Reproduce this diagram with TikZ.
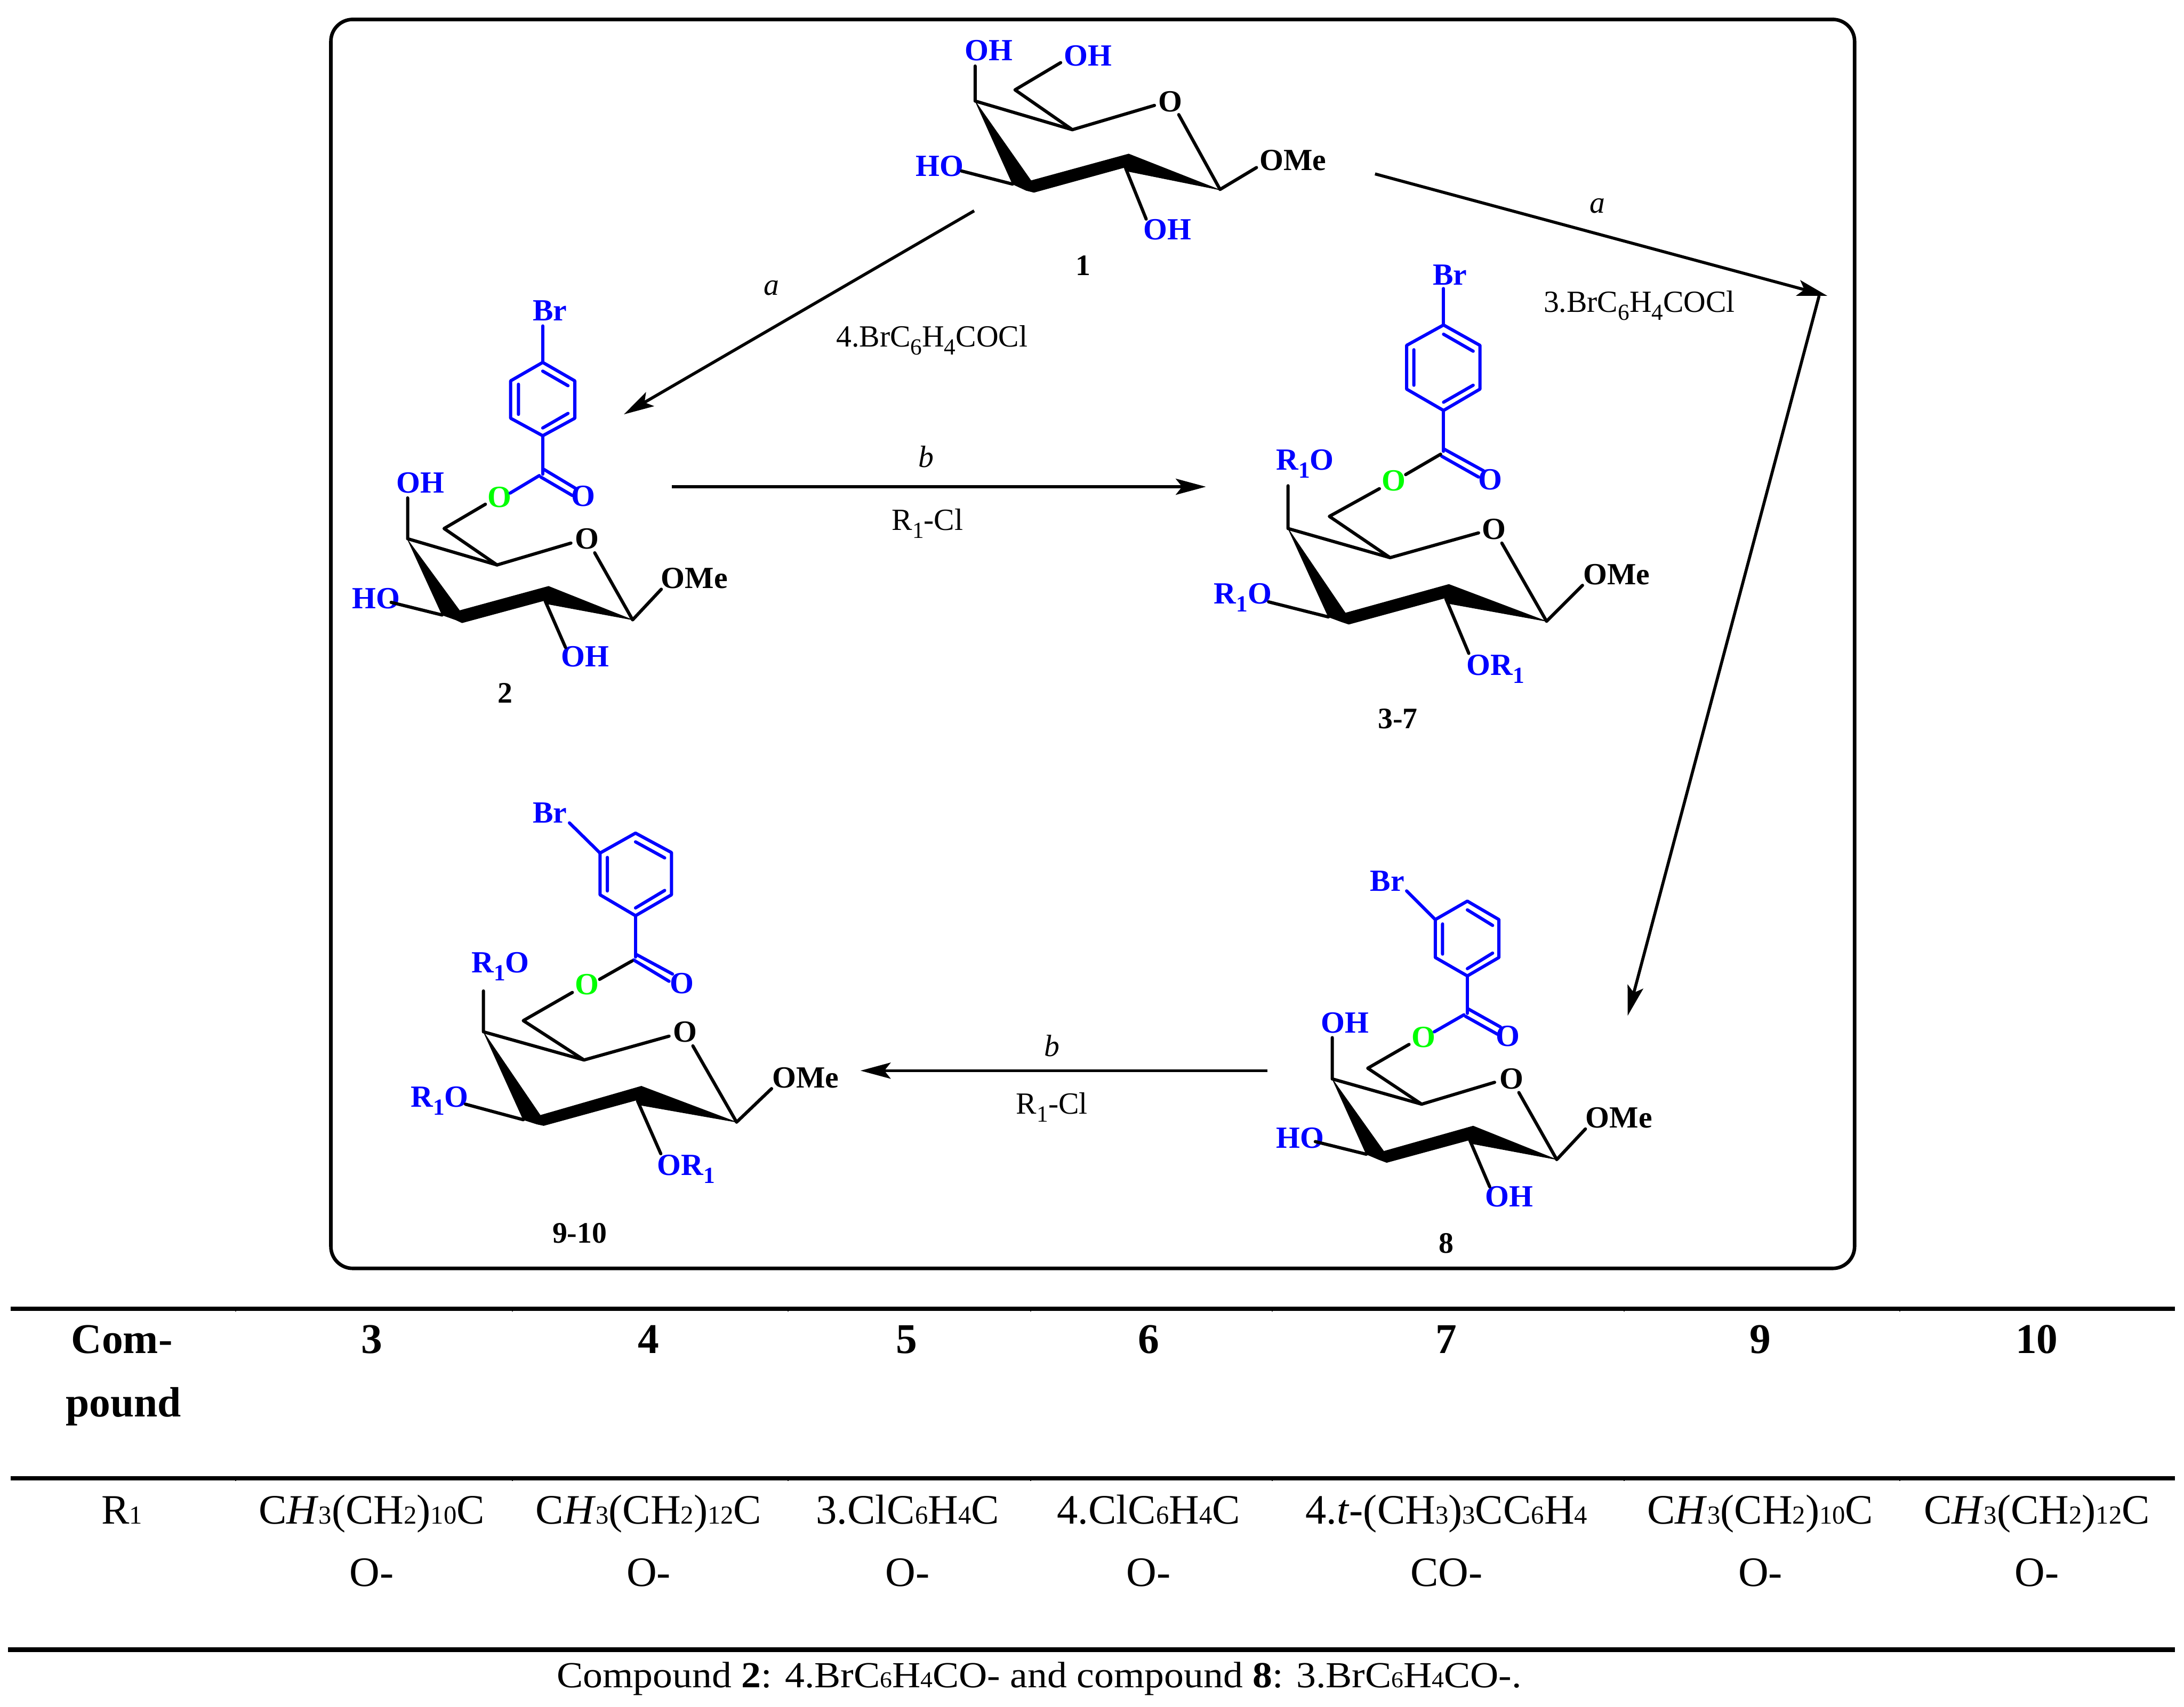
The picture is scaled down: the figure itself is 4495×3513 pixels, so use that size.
\documentclass[tikz,border=0pt]{standalone}
\usepackage{fontspec}
\setmainfont{Liberation Serif}
\usetikzlibrary{arrows.meta}
\definecolor{chemblue}{HTML}{0000FF}
\definecolor{chemgreen}{HTML}{00FF00}
\newcommand{\lowsub}[1]{\raisebox{-0.26em}{\scalebox{0.75}{#1}}}
\newcommand{\tabsub}[1]{\scalebox{0.62}{#1}}
\tikzset{
  bond/.style={line width=0.066cm,line cap=round,line join=round,black},
  bluebond/.style={line width=0.066cm,line cap=round,line join=round,chemblue},
  solidwedge/.style={fill=black,draw=black,line width=0.01cm,line join=round},
  rarrow/.style={line width=0.062cm,-{Stealth[length=0.62cm,width=0.33cm,inset=0.13cm]}},
  atom/.style={inner sep=0pt,font=\fontsize{18}{20}\selectfont\bfseries},
  blueatom/.style={atom,text=chemblue},
  greenatom/.style={atom,text=chemgreen},
  boldlabel/.style={inner sep=0pt,font=\fontsize{17.4}{20}\selectfont\bfseries},
  reagent/.style={inner sep=0pt,font=\fontsize{18}{20}\selectfont},
  cell/.style={inner sep=0pt,anchor=base,font=\fontsize{24.5}{28}\selectfont},
  headcell/.style={cell,font=\fontsize{24.8}{28}\selectfont\bfseries},
  capcell/.style={cell,font=\fontsize{21.5}{26}\selectfont},
  tabrule/.style={line width=0.085cm},
}
\begin{document}
\begin{tikzpicture}[x=0.01cm,y=-0.01cm]
\useasboundingbox (0,0) rectangle (4495,3513);
\fill[white] (0,0) rectangle (4495,3513);

% frame
\draw[line width=0.073cm,rounded corners=0.45cm] (681,40) rectangle (3817,2611);

% ---------- compound 1
\node[blueatom] (m1oha) at (2035,104) {OH};
\node[blueatom] (m1ohb) at (2239,115) {OH};
\node[atom] (m1o) at (2409,209) {O};
\node[atom] (m1ome) at (2661,330) {OMe};
\node[blueatom] (m1ho) at (1934,342) {HO};
\node[blueatom] (m1ohc) at (2403,473) {OH};
\node[boldlabel] (m1n) at (2229,547) {1};
\draw[bond] (2007,136) -- (2007,208) -- (2207,267) -- (2376,217);
\draw[bond] (2183,129) -- (2089,185) -- (2207,267);
\draw[bond] (2426,236) -- (2511,390) -- (2586,345);
\draw[bond] (1979,352) -- (2084,379);
\draw[bond] (2317,347) -- (2359,451);
\fill[solidwedge] (2007,208) -- (2122,372) -- (2323,317) -- (2511,391) -- (2318,352) -- (2313,345) -- (2128,396) -- (2112,392) -- (2084,379) -- cycle;

% ---------- compound 2
\node[blueatom] (m2br) at (1132,640) {Br};
\node[blueatom] (m2oo) at (1201,1021) {O};
\node[greenatom] (m2oe) at (1028,1023) {O};
\node[blueatom] (m2oha) at (865,994) {OH};
\node[atom] (m2o) at (1208,1109) {O};
\node[atom] (m2ome) at (1429,1190) {OMe};
\node[blueatom] (m2ho) at (774,1232) {HO};
\node[blueatom] (m2ohc) at (1204,1352) {OH};
\node[boldlabel] (m2n) at (1040,1427) {2};
\draw[bluebond] (1117,671) -- (1117,746);
\draw[bluebond] (1117,746) -- (1183,784) -- (1183,861) -- (1117,897) -- (1051,861) -- (1051,784) -- cycle;
\draw[bluebond] (1117,764) -- (1169,794) (1117,881) -- (1169,851) (1067,791) -- (1067,853);
\draw[bluebond] (1117,897) -- (1117,976);
\draw[bluebond] (1119,966) -- (1184,1005) (1113,982) -- (1178,1020);
\draw[bluebond] (1110,979) -- (1050,1015);
\draw[bond] (999,1038) -- (914,1088) -- (1023,1163) -- (1175,1118);
\draw[bond] (839,1025) -- (839,1109) -- (1023,1163);
\draw[bond] (1224,1138) -- (1302,1276) -- (1361,1213);
\draw[bond] (805,1240) -- (910,1266);
\draw[bond] (1122,1237) -- (1164,1333);
\fill[solidwedge] (839,1111) -- (946,1257) -- (1129,1207) -- (1302,1276) -- (1125,1243) -- (1121,1236) -- (951,1282) -- (938,1276) -- (910,1266) -- cycle;

% ---------- compounds 3-7
\node[blueatom] (m3br) at (2984,566) {Br};
\node[blueatom] (m3oo) at (3067,987) {O};
\node[greenatom] (m3oe) at (2868,989) {O};
\node[blueatom] (m3ra) at (2686,955) {R\lowsub{1}O};
\node[atom] (m3o) at (3075,1089) {O};
\node[atom] (m3ome) at (3327,1183) {OMe};
\node[blueatom] (m3rb) at (2558,1230) {R\lowsub{1}O};
\node[blueatom] (m3rc) at (3078,1377) {OR\lowsub{1}};
\node[boldlabel] (m3n) at (2877,1480) {3-7};
\draw[bluebond] (2971,594) -- (2971,669);
\draw[bluebond] (2971,669) -- (3046,711) -- (3046,801) -- (2971,845) -- (2895,801) -- (2895,711) -- cycle;
\draw[bluebond] (2971,688) -- (3032,723) (2971,828) -- (3032,793) (2910,720) -- (2910,793);
\draw[bluebond] (2971,845) -- (2971,929);
\draw[bluebond] (2973,925) -- (3053,969) (2967,939) -- (3043,982);
\draw[bond] (2893,977) -- (2965,935);
\draw[bond] (2839,1006) -- (2736,1063) -- (2861,1148) -- (3043,1097);
\draw[bond] (2651,1000) -- (2651,1088) -- (2861,1148);
\draw[bond] (3091,1118) -- (3183,1279) -- (3257,1205);
\draw[bond] (2611,1239) -- (2734,1270);
\draw[bond] (2976,1233) -- (3023,1345);
\fill[solidwedge] (2651,1088) -- (2769,1262) -- (2982,1203) -- (3183,1279) -- (2979,1242) -- (2974,1231) -- (2776,1285) -- (2761,1280) -- (2734,1270) -- cycle;

% ---------- compounds 9-10
\node[blueatom] (m9br) at (1132,1673) {Br};
\node[blueatom] (m9oo) at (1403,2024) {O};
\node[greenatom] (m9oe) at (1208,2027) {O};
\node[blueatom] (m9ra) at (1030,1990) {R\lowsub{1}O};
\node[atom] (m9o) at (1410,2124) {O};
\node[atom] (m9ome) at (1658,2219) {OMe};
\node[blueatom] (m9rb) at (905,2266) {R\lowsub{1}O};
\node[blueatom] (m9rc) at (1412,2407) {OR\lowsub{1}};
\node[boldlabel] (m9n) at (1193,2539) {9-10};
\draw[bluebond] (1172,1694) -- (1235,1756);
\draw[bluebond] (1235,1756) -- (1308,1715) -- (1382,1755) -- (1382,1842) -- (1308,1885) -- (1235,1842) -- cycle;
\draw[bluebond] (1308,1733) -- (1368,1766) (1308,1869) -- (1368,1833) (1250,1765) -- (1250,1834);
\draw[bluebond] (1308,1885) -- (1308,1970);
\draw[bluebond] (1310,1965) -- (1384,2005) (1304,1976) -- (1377,2020);
\draw[bond] (1234,2016) -- (1301,1978);
\draw[bond] (1178,2043) -- (1077,2101) -- (1202,2182) -- (1377,2133);
\draw[bond] (995,2040) -- (995,2124) -- (1202,2182);
\draw[bond] (1426,2153) -- (1516,2310) -- (1588,2241);
\draw[bond] (958,2273) -- (1077,2305);
\draw[bond] (1312,2266) -- (1360,2375);
\fill[solidwedge] (995,2124) -- (1112,2296) -- (1320,2236) -- (1516,2310) -- (1318,2275) -- (1312,2264) -- (1119,2317) -- (1105,2314) -- (1077,2305) -- cycle;

% ---------- compound 8
\node[blueatom] (m8br) at (2855,1814) {Br};
\node[blueatom] (m8oo) at (3103,2133) {O};
\node[greenatom] (m8oe) at (2930,2135) {O};
\node[blueatom] (m8oha) at (2768,2106) {OH};
\node[atom] (m8o) at (3111,2221) {O};
\node[atom] (m8ome) at (3332,2301) {OMe};
\node[blueatom] (m8ho) at (2676,2343) {HO};
\node[blueatom] (m8ohc) at (3106,2463) {OH};
\node[boldlabel] (m8n) at (2977,2559) {8};
\draw[bluebond] (2895,1834) -- (2954,1893);
\draw[bluebond] (2954,1893) -- (3020,1855) -- (3085,1893) -- (3085,1971) -- (3020,2009) -- (2954,1971) -- cycle;
\draw[bluebond] (3020,1873) -- (3072,1905) (3020,1994) -- (3072,1962) (2969,1902) -- (2969,1964);
\draw[bluebond] (3020,2009) -- (3020,2086);
\draw[bluebond] (3022,2077) -- (3088,2114) (3016,2092) -- (3082,2129);
\draw[bluebond] (3013,2089) -- (2952,2124);
\draw[bond] (2900,2150) -- (2815,2199) -- (2926,2273) -- (3076,2228);
\draw[bond] (2742,2136) -- (2742,2221) -- (2926,2273);
\draw[bond] (3126,2249) -- (3204,2387) -- (3263,2324);
\draw[bond] (2707,2350) -- (2812,2376);
\draw[bond] (3025,2347) -- (3066,2443);
\fill[solidwedge] (2742,2221) -- (2848,2370) -- (3032,2318) -- (3204,2387) -- (3028,2354) -- (3023,2347) -- (2854,2393) -- (2838,2387) -- (2812,2376) -- cycle;

% ---------- reaction arrows
\coordinate (a1s) at (2005,434);
\coordinate (a1e) at (1284,853);
\coordinate (a2s) at (1383,1002);
\coordinate (a2e) at (2482,1002);
\coordinate (a3s) at (2830,358);
\coordinate (a3e) at (3761,609);
\coordinate (a4s) at (3744,609);
\coordinate (a4e) at (3350,2091);
\coordinate (a5s) at (2609,2204);
\coordinate (a5e) at (1771,2204);
\draw[rarrow] (a1s) -- (a1e);
\draw[rarrow] (a2s) -- (a2e);
\draw[rarrow] (a3s) -- (a3e);
\draw[rarrow] (a4s) -- (a4e);
\draw[rarrow] (a5s) -- (a5e);

\node[reagent] (ra1) at (1588,593) {\textit{a}};
\node[reagent] (rt1) at (1918,700) {4.BrC\lowsub{6}H\lowsub{4}COCl};
\node[reagent] (rb1) at (1906,940) {\textit{b}};
\node[reagent] (rr1) at (1909,1078) {R\lowsub{1}-Cl};
\node[reagent] (ra2) at (3288,424) {\textit{a}};
\node[reagent] (rt2) at (3374,629) {3.BrC\lowsub{6}H\lowsub{4}COCl};
\node[reagent] (rb2) at (2165,2153) {\textit{b}};
\node[reagent] (rr2) at (2165,2279) {R\lowsub{1}-Cl};

% ---------- table
\draw[tabrule] (22,2694) -- (4476,2694);
\draw[tabrule] (22,3043) -- (4476,3043);
\draw[tabrule,line width=0.095cm] (17,3396) -- (4476,3396);
\foreach \tx in {485,1055,1622,2121,2618,3343,3910}{
  \draw[line width=0.02cm] (\tx,2698) -- (\tx,2700);
  \draw[line width=0.02cm] (\tx,3047) -- (\tx,3049);
}
\node[headcell] (hc) at (251,2786) {Com-};
\node[headcell] (hp) at (254,2916) {pound};
\node[headcell] (h3) at (765,2786) {3};
\node[headcell] (h4) at (1335,2786) {4};
\node[headcell] (h5) at (1866,2786) {5};
\node[headcell] (h6) at (2364,2786) {6};
\node[headcell] (h7) at (2977,2786) {7};
\node[headcell] (h9) at (3623,2786) {9};
\node[headcell] (h10) at (4192,2786) {10};

\node[cell] (r0) at (251,3137) {R\tabsub{1}};
\node[cell] (r3) at (765,3137) {C\textit{H}\tabsub{3}(CH\tabsub{2})\tabsub{10}C};
\node[cell] (r4) at (1335,3137) {C\textit{H}\tabsub{3}(CH\tabsub{2})\tabsub{12}C};
\node[cell] (r5) at (1868,3137) {3.ClC\tabsub{6}H\tabsub{4}C};
\node[cell] (r6) at (2364,3137) {4.ClC\tabsub{6}H\tabsub{4}C};
\node[cell] (r7) at (2977,3137) {4.\textit{t}-(CH\tabsub{3})\tabsub{3}CC\tabsub{6}H\tabsub{4}};
\node[cell] (r9) at (3623,3137) {C\textit{H}\tabsub{3}(CH\tabsub{2})\tabsub{10}C};
\node[cell] (r10) at (4192,3137) {C\textit{H}\tabsub{3}(CH\tabsub{2})\tabsub{12}C};
\node[cell] (s3) at (765,3265) {O-};
\node[cell] (s4) at (1335,3265) {O-};
\node[cell] (s5) at (1868,3265) {O-};
\node[cell] (s6) at (2364,3265) {O-};
\node[cell] (s7) at (2977,3265) {CO-};
\node[cell] (s9) at (3623,3265) {O-};
\node[cell] (s10) at (4192,3265) {O-};
\node[capcell] (cap) at (2139,3474) {\scalebox{1.07}[1]{Compound \textbf{2}: 4.BrC\tabsub{6}H\tabsub{4}CO- and compound \textbf{8}: 3.BrC\tabsub{6}H\tabsub{4}CO-.}};
\end{tikzpicture}
\end{document}
